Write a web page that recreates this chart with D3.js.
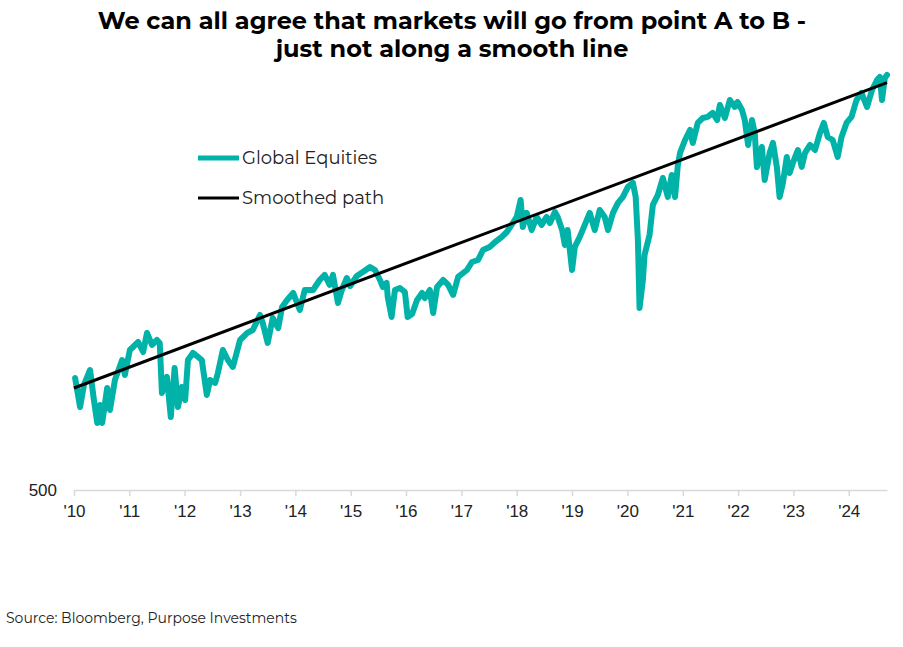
<!DOCTYPE html>
<html>
<head>
<meta charset="utf-8">
<script src="https://cdn.jsdelivr.net/npm/d3@7"></script>
<style>
  html, body { margin: 0; padding: 0; background: #fff; }
  svg { display: block; font-family: "Montserrat", "Open Sans", "DejaVu Sans", sans-serif; }
</style>
</head>
<body>
<svg id="chart" width="903" height="647"></svg>
<script>
// ---- Data (decimal years, index level) ----
const equityYears = [
  2010.02,2010.11,2010.18,2010.29,2010.36,2010.42,2010.47,2010.51,2010.60,2010.65,2010.74,2010.87,2010.92,
  2011.01,2011.16,2011.25,2011.32,2011.41,2011.50,2011.55,2011.59,2011.68,2011.75,2011.82,2011.88,2011.95,
  2012.01,2012.06,2012.15,2012.24,2012.31,2012.40,2012.46,2012.55,2012.60,2012.69,2012.78,2012.87,
  2013.00,2013.13,2013.23,2013.36,2013.41,2013.50,2013.59,2013.69,2013.76,2013.85,2013.96,
  2014.08,2014.17,2014.32,2014.44,2014.53,2014.62,2014.68,2014.77,2014.84,2014.93,2014.99,
  2015.11,2015.22,2015.35,2015.44,2015.53,2015.58,2015.65,2015.67,2015.74,2015.80,2015.89,2015.98,
  2016.03,2016.11,2016.20,2016.29,2016.34,2016.43,2016.49,2016.56,2016.67,2016.76,2016.85,2016.94,
  2017.10,2017.19,2017.30,2017.39,2017.51,2017.61,2017.73,2017.82,2017.93,
  2018.00,2018.07,2018.11,2018.18,2018.27,2018.36,2018.45,2018.54,2018.60,2018.69,2018.74,2018.82,2018.87,2018.92,
  2019.00,2019.05,2019.14,2019.23,2019.32,2019.41,2019.50,2019.59,2019.65,2019.74,2019.83,2019.92,
  2020.01,2020.10,2020.15,2020.19,2020.22,2020.28,2020.31,2020.40,2020.46,2020.55,2020.64,2020.73,2020.80,2020.86,2020.91,2020.95,
  2021.04,2021.13,2021.18,2021.27,2021.36,2021.45,2021.54,2021.62,2021.67,2021.76,2021.85,2021.94,2021.99,
  2022.07,2022.12,2022.18,2022.25,2022.30,2022.34,2022.43,2022.48,2022.57,2022.63,2022.70,2022.75,2022.81,2022.88,2022.93,2022.99,
  2023.08,2023.15,2023.21,2023.30,2023.39,2023.48,2023.55,2023.62,2023.71,2023.80,2023.87,2023.96,
  2024.05,2024.14,2024.23,2024.33,2024.42,2024.51,2024.56,2024.60,2024.65,2024.69
];
const equityValues = [
  1340,1123,1288,1400,1175,1003,1138,1003,1265,1100,1325,1475,1363,
  1550,1610,1535,1678,1588,1625,1603,1228,1348,1048,1415,1123,1273,
  1175,1475,1528,1498,1475,1213,1325,1303,1378,1550,1475,1423,
  1625,1678,1700,1813,1753,1603,1790,1715,1873,1925,1978,
  1850,2000,2000,2075,2113,2038,2113,1903,2000,2090,2030,
  2105,2135,2173,2150,2075,2023,2053,1948,1798,2000,2015,1985,
  1798,1820,1925,1978,1940,2000,1828,2023,2075,2038,1963,2098,
  2150,2210,2225,2300,2323,2360,2398,2435,2503,
  2548,2675,2473,2578,2450,2548,2488,2548,2503,2585,2548,2450,2338,2450,
  2150,2323,2398,2488,2578,2450,2600,2548,2450,2578,2653,2698,
  2773,2803,2698,2375,1865,2075,2263,2413,2638,2713,2840,2698,2863,2698,2938,3028,
  3125,3200,3103,3253,3290,3298,3328,3275,3388,3290,3425,3373,3410,
  3350,3275,3088,3275,3178,2923,3073,2825,3028,3103,2923,2698,2803,2998,2878,2953,
  3050,2923,3028,3088,3050,3178,3253,3148,3125,2998,3148,3253,
  3298,3425,3478,3373,3500,3575,3598,3425,3590,3613
];
const smoothYears = [2010.0, 2024.69];
const smoothValues = [1265, 3555];
const tickYears = [2010,2011,2012,2013,2014,2015,2016,2017,2018,2019,2020,2021,2022,2023,2024];
const tickLabels = ["'10","'11","'12","'13","'14","'15","'16","'17","'18","'19","'20","'21","'22","'23","'24"];
const yTicks = [500];
const seriesNames = ["Global Equities", "Smoothed path"];
const titleLines = ["We can all agree that markets will go from point A to B -", "just not along a smooth line"];
const sourceText = "Source: Bloomberg, Purpose Investments";

// ---- helpers ----
function toDate(y) {
  const yr = Math.floor(y);
  const start = new Date(yr, 0, 1), end = new Date(yr + 1, 0, 1);
  return new Date(start.getTime() + (y - yr) * (end - start));
}

const svg = d3.select("#chart");
const teal = "#00b2a8";
const textColor = "#222";

const x = d3.scaleTime()
  .domain([toDate(2010.0), toDate(2024.69)])
  .range([74, 887]);
const y = d3.scaleLinear()
  .domain([500, 3687.5])
  .range([490, 65]);

// title
svg.append("g").selectAll("text").data(titleLines).join("text")
  .attr("x", 452).attr("y", (d, i) => 29 + i * 28)
  .attr("text-anchor", "middle")
  .attr("font-size", 24).attr("font-weight", 700).attr("fill", "#000")
  .text(d => d);

// x axis
const xAxis = d3.axisBottom(x)
  .tickValues(tickYears.map(toDate))
  .tickFormat((d, i) => tickLabels[i])
  .tickSize(6).tickSizeOuter(0).tickPadding(9);
const gx = svg.append("g").attr("transform", "translate(0,490)").call(xAxis);
gx.select(".domain").attr("stroke", "#d9d9d9").attr("stroke-width", 1.5);
gx.selectAll(".tick line").attr("stroke", "#d9d9d9").attr("stroke-width", 1.5).attr("y1", 0).attr("y2", 6);
gx.selectAll(".tick text").attr("font-size", 17).attr("fill", textColor).attr("font-family", null);

// y axis (single label)
const yAxis = d3.axisLeft(y).tickValues(yTicks).tickSize(0).tickPadding(17);
const gy = svg.append("g").attr("transform", "translate(74,0)").call(yAxis);
gy.select(".domain").remove();
gy.selectAll(".tick text").attr("font-size", 17).attr("fill", textColor).attr("font-family", null);

// lines
const line = d3.line().x(d => x(d[0])).y(d => y(d[1])).curve(d3.curveLinear);
const eqData = equityYears.map((yr, i) => [toDate(yr), equityValues[i]]);
const smData = smoothYears.map((yr, i) => [toDate(yr), smoothValues[i]]);

svg.append("path").datum(eqData)
  .attr("fill", "none").attr("stroke", teal).attr("stroke-width", 6)
  .attr("stroke-linejoin", "round").attr("stroke-linecap", "round")
  .attr("d", line);
svg.append("path").datum(smData)
  .attr("fill", "none").attr("stroke", "#000").attr("stroke-width", 3)
  .attr("d", line);

// legend
const legend = svg.append("g");
const legColors = [teal, "#000"];
const legWidths = [5, 3];
seriesNames.forEach((name, i) => {
  const ly = 158 + i * 40;
  legend.append("line").attr("x1", 198).attr("x2", 239).attr("y1", ly).attr("y2", ly)
    .attr("stroke", legColors[i]).attr("stroke-width", legWidths[i]);
  legend.append("text").attr("x", 242).attr("y", ly + 6)
    .attr("font-size", 18).attr("fill", textColor).text(name);
});

// source
svg.append("text").attr("x", 6).attr("y", 623)
  .attr("font-size", 14).attr("fill", textColor).text(sourceText);
</script>
</body>
</html>
